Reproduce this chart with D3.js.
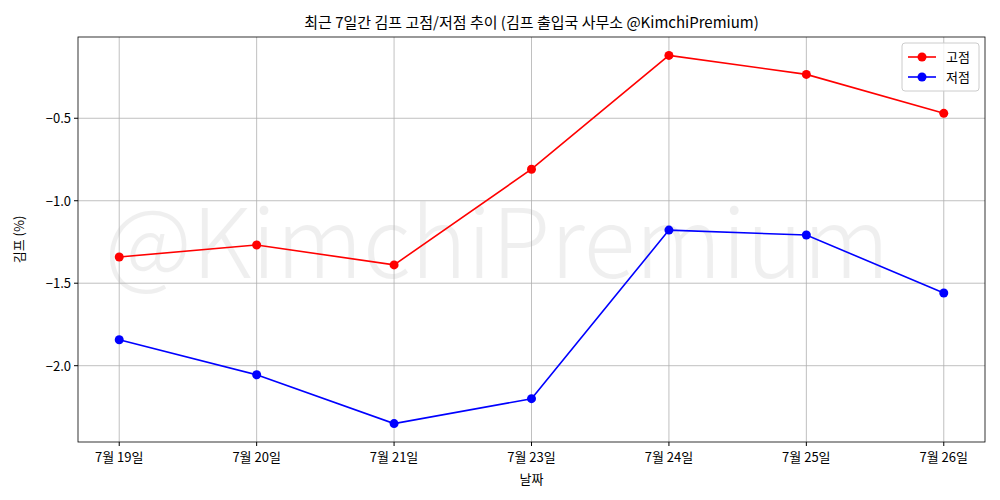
<!DOCTYPE html>
<html><head><meta charset="utf-8">
<script src="https://cdn.jsdelivr.net/npm/d3@7"></script>
<style>body{margin:0;background:#fff}text{font-family:"Noto Sans CJK KR","Noto Sans",sans-serif}</style>
</head><body><svg id="c" width="1000" height="500"></svg>
<script>
const categories=["7월 19일","7월 20일","7월 21일","7월 23일","7월 24일","7월 25일","7월 26일"];
const highValues=[-1.341,-1.268,-1.389,-0.809,-0.119,-0.234,-0.470];
const lowValues=[-1.843,-2.055,-2.351,-2.200,-1.178,-1.208,-1.559];
const yTicks=[-0.5,-1.0,-1.5,-2.0];
const svg=d3.select("#c");
const L=78,R=985,T=37,B=442;
const span=(R-L)/1.1, pad=span*0.05;
const x=d3.scalePoint().domain(categories).range([L+pad,R-pad]);
const xp=c=>x(c);
const all=highValues.concat(lowValues);
const mn=d3.min(all),mx=d3.max(all),m=(mx-mn)*0.05;
const y=d3.scaleLinear().domain([mn-m,mx+m]).range([B,T]);
// watermark
svg.append("text").attr("x",497).attr("y",(T+B)/2+38).attr("text-anchor","middle")
 .attr("font-size",96).attr("font-weight",300).attr("textLength",785).attr("fill","#000").attr("opacity",0.06).text("@KimchiPremium");
// grid
const g=svg.append("g");
categories.forEach(c=>g.append("line").attr("x1",xp(c)).attr("x2",xp(c)).attr("y1",T).attr("y2",B).attr("stroke","#b0b0b0").attr("stroke-width",0.8));
yTicks.forEach(v=>g.append("line").attr("x1",L).attr("x2",R).attr("y1",y(v)).attr("y2",y(v)).attr("stroke","#b0b0b0").attr("stroke-width",0.8));
svg.append("rect").attr("x",L).attr("y",T).attr("width",R-L).attr("height",B-T).attr("fill","none").attr("stroke","#000").attr("stroke-width",0.8);
// ticks
categories.forEach(c=>{svg.append("line").attr("x1",xp(c)).attr("x2",xp(c)).attr("y1",B).attr("y2",B+4).attr("stroke","#000");
 svg.append("text").attr("x",xp(c)).attr("y",B+20).attr("text-anchor","middle").attr("font-size",13).text(c);});
yTicks.forEach(v=>{svg.append("line").attr("x1",L-4).attr("x2",L).attr("y1",y(v)).attr("y2",y(v)).attr("stroke","#000");
 svg.append("text").attr("x",L-7).attr("y",y(v)+5).attr("text-anchor","end").attr("font-size",13).text("−"+Math.abs(v).toFixed(1));});
svg.append("text").attr("x",(L+R)/2).attr("y",484).attr("text-anchor","middle").attr("font-size",13).text("날짜");
svg.append("text").attr("transform",`translate(24,${(T+B)/2}) rotate(-90)`).attr("text-anchor","middle").attr("font-size",13).text("김프 (%)");
svg.append("text").attr("x",(L+R)/2).attr("y",28).attr("text-anchor","middle").attr("font-size",15).text("최근 7일간 김프 고점/저점 추이 (김프 출입국 사무소 @KimchiPremium)");
// lines
const line=d3.line().x((d,i)=>xp(categories[i])).y(d=>y(d));
[[highValues,"#ff0000"],[lowValues,"#0000ff"]].forEach(([vals,col])=>{
 svg.append("path").attr("d",line(vals)).attr("fill","none").attr("stroke",col).attr("stroke-width",1.6);
 vals.forEach((v,i)=>svg.append("circle").attr("cx",xp(categories[i])).attr("cy",y(v)).attr("r",4.5).attr("fill",col));
});
// legend
const lg=svg.append("g");
lg.append("rect").attr("x",902).attr("y",43).attr("width",77).attr("height",48).attr("rx",3).attr("fill","#fff").attr("fill-opacity",0.8).attr("stroke","#ccc");
[["고점","#ff0000"],["저점","#0000ff"]].forEach(([t,col],i)=>{
 const yy=57+i*20;
 lg.append("line").attr("x1",908).attr("x2",936).attr("y1",yy).attr("y2",yy).attr("stroke",col).attr("stroke-width",1.6);
 lg.append("circle").attr("cx",922).attr("cy",yy).attr("r",4.5).attr("fill",col);
 lg.append("text").attr("x",946).attr("y",yy+5).attr("font-size",13).text(t);
});
</script></body></html>
